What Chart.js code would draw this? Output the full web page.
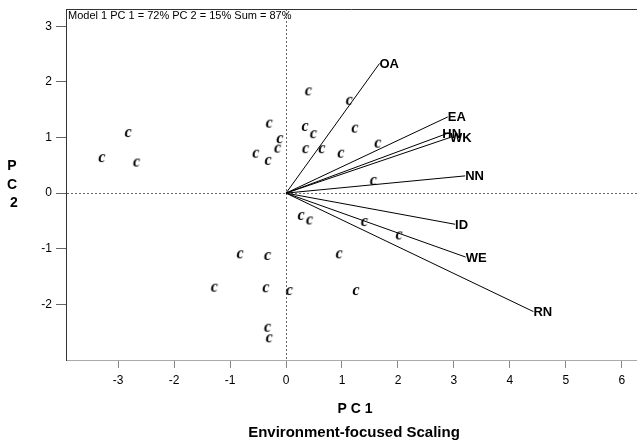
<!DOCTYPE html>
<html>
<head>
<meta charset="utf-8">
<script src="https://cdn.jsdelivr.net/npm/chart.js@4"></script>
<style>
  body { margin: 0; background: #fff; }
  #wrap { width: 637px; height: 442px; }
</style>
</head>
<body>
<div id="wrap"><canvas id="pca" width="637" height="442"></canvas></div>
<script>
// site scores (the "c" markers)
const siteX = [-2.82, -3.29, -2.67, -0.30, -0.11, -0.15, -0.54, -0.32, 0.34, 0.35,
  0.40, 1.13, 0.49, 1.23, 0.64, 0.98, 1.64, 1.56,
  0.27, 0.42, 1.40, 2.02, -0.82, -0.33, 0.95, -1.28, -0.36, 0.06, 1.25, -0.33, -0.30];
const siteY = [1.08, 0.63, 0.55, 1.25, 0.97, 0.80, 0.71, 0.58, 1.19, 0.79,
  1.83, 1.66, 1.06, 1.16, 0.79, 0.71, 0.89, 0.22,
  -0.41, -0.49, -0.52, -0.76, -1.10, -1.13, -1.10, -1.70, -1.71, -1.76, -1.76, -2.42, -2.61];

// environment vectors
const vecNames = ["OA", "EA", "HN", "WK", "NN", "ID", "WE", "RN"];
const vecX = [1.67, 2.89, 2.90, 2.93, 3.20, 3.02, 3.21, 4.42];
const vecY = [2.33, 1.37, 1.08, 1.00, 0.31, -0.56, -1.15, -2.13];

const xTicks = [-3, -2, -1, 0, 1, 2, 3, 4, 5, 6];
const yTicks = [-2, -1, 0, 1, 2, 3];

const sans = "'Liberation Sans', Arial, sans-serif";

// marker: bold italic serif "c"
function makeMarker() {
  const cv = document.createElement("canvas");
  cv.width = 14; cv.height = 14;
  const g = cv.getContext("2d");
  g.font = "italic bold 16px 'Liberation Serif', 'Times New Roman', serif";
  g.fillStyle = "#000";
  g.textAlign = "center";
  g.textBaseline = "alphabetic";
  g.fillText("c", 7, 11);
  return cv;
}
const marker = makeMarker();

const vectorSets = vecNames.map((n, i) => ({
  label: n,
  data: [{ x: 0, y: 0 }, { x: vecX[i], y: vecY[i] }],
  showLine: true,
  borderColor: "#000",
  borderWidth: 1,
  pointRadius: 0,
  pointHoverRadius: 0
}));

const sitesSet = {
  label: "sites",
  data: siteX.map((x, i) => ({ x: x, y: siteY[i] })),
  pointStyle: marker,
  pointRadius: 7
};

const labelShift = { HN: -6 };

const extras = {
  id: "extras",
  afterDraw(chart) {
    const c = chart.ctx;
    const a = chart.chartArea;
    const xs = chart.scales.x, ys = chart.scales.y;
    c.save();
    // top frame line
    c.strokeStyle = "#333";
    c.lineWidth = 1;
    c.beginPath();
    c.moveTo(a.left, a.top + 0.5);
    c.lineTo(a.right, a.top + 0.5);
    c.stroke();

    c.fillStyle = "#000";
    // model text
    c.font = "11px " + sans;
    c.textAlign = "left";
    c.textBaseline = "middle";
    c.fillText("Model 1 PC 1 = 72% PC 2 = 15% Sum = 87%", a.left + 2, a.top + 7);

    // vector labels
    c.font = "bold 13px " + sans;
    vecNames.forEach((n, i) => {
      const px = xs.getPixelForValue(vecX[i]) + (labelShift[n] || 0);
      const py = ys.getPixelForValue(vecY[i]);
      c.fillText(n, px, py + 1);
    });

    // axis titles
    c.textAlign = "center";
    c.font = "bold 14px " + sans;
    c.fillText("P", 12, 166);
    c.fillText("C", 12, 185);
    c.fillText("2", 14, 203);
    c.fillText("P C 1", 355, 409);
    c.font = "bold 15px " + sans;
    c.fillText("Environment-focused Scaling", 354, 433);
    c.restore();
  }
};

new Chart(document.getElementById("pca"), {
  type: "scatter",
  data: { datasets: [...vectorSets, sitesSet] },
  options: {
    responsive: false,
    animation: false,
    layout: { autoPadding: false, padding: { top: 9, right: 0, left: 0, bottom: 0 } },
    plugins: {
      legend: { display: false },
      tooltip: { enabled: false }
    },
    scales: {
      x: {
        type: "linear",
        min: -3.93,
        max: 6.27,
        afterBuildTicks: s => { s.ticks = xTicks.map(v => ({ value: v })); },
        afterFit: s => { s.height = 82; s.paddingLeft = 0; s.paddingRight = 0; },
        grid: {
          drawOnChartArea: true,
          color: ctx => (ctx.tick && ctx.tick.value === 0) ? "#666" : "rgba(0,0,0,0)",
          tickColor: "#888",
          tickLength: 8
        },
        border: { display: true, color: "#aaa", width: 1, dash: [2, 2] },
        ticks: { color: "#000", font: { family: sans, size: 12 }, padding: 5 }
      },
      y: {
        type: "linear",
        min: -3.0,
        max: 3.31,
        afterBuildTicks: s => { s.ticks = yTicks.map(v => ({ value: v })); },
        afterFit: s => { s.width = 66; s.paddingTop = 0; s.paddingBottom = 0; },
        grid: {
          drawOnChartArea: true,
          color: ctx => (ctx.tick && ctx.tick.value === 0) ? "#666" : "rgba(0,0,0,0)",
          tickColor: "#666",
          tickLength: 10
        },
        border: { display: true, color: "#333", width: 1, dash: [2, 2] },
        ticks: { color: "#000", font: { family: sans, size: 12 }, padding: 4 }
      }
    }
  },
  plugins: [extras]
});
</script>
</body>
</html>
